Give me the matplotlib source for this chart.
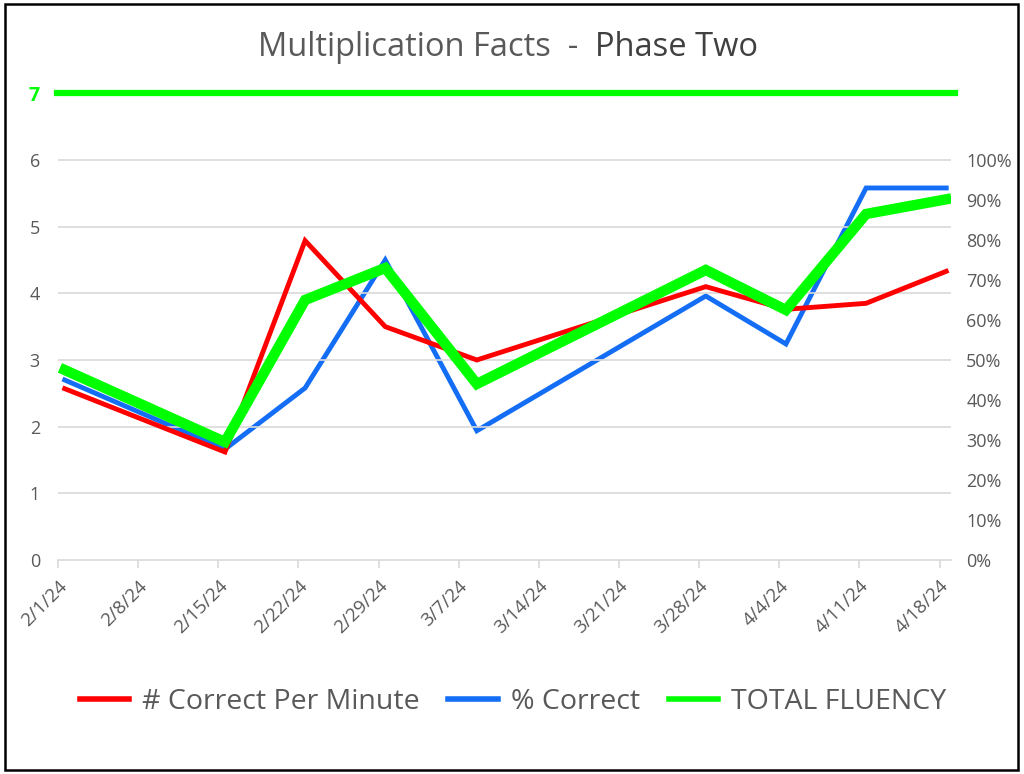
import matplotlib
matplotlib.use("Agg")
import matplotlib.pyplot as plt
from matplotlib.lines import Line2D
from matplotlib.patches import Rectangle
import pandas as pd

plt.rcParams['font.family'] = ['Open Sans', 'DejaVu Sans']

# ---- data ----
dates = ['2024-02-01', '2024-02-15', '2024-02-22', '2024-02-29', '2024-03-08',
         '2024-03-28', '2024-04-04', '2024-04-11', '2024-04-18']
correct_per_min = [2.57, 1.62, 4.79, 3.50, 3.00, 4.10, 3.76, 3.85, 4.33]
pct_correct = [45.0, 27.7, 43.0, 75.0, 32.3, 66.0, 54.0, 93.0, 93.0]
total_fluency = [2.85, 1.77, 3.90, 4.38, 2.64, 4.35, 3.75, 5.19, 5.41]
left_ticks = [0, 1, 2, 3, 4, 5, 6, 7]
right_ticks = [0, 10, 20, 30, 40, 50, 60, 70, 80, 90, 100]
tick_dates = pd.date_range('2024-02-01', '2024-04-18', freq='7D')
series_names = ['# Correct Per Minute', '% Correct', 'TOTAL FLUENCY']
title_a = 'Multiplication Facts  -  '
title_b = 'Phase Two'
goal = 7

RED = '#FF0000'
BLUE = '#146EF5'
GREEN = '#00FF00'
GRAY = '#595959'
GRID = '#D9D9D9'

x = pd.to_datetime(dates) + pd.Timedelta(hours=14)

fig = plt.figure(figsize=(10.24, 7.74), dpi=100)
ax = fig.add_axes([58/1024, 1-560/774, (951-58)/1024, (560-93.3)/774])
ax2 = ax.twinx()

ax.set_xlim(pd.Timestamp('2024-02-01'), pd.Timestamp('2024-04-19'))
ax.set_ylim(0, 7)
ax2.set_ylim(0, 100*7/6)

for a in (ax, ax2):
    for s in a.spines.values():
        s.set_visible(False)
ax.spines['bottom'].set_visible(True)
ax.spines['bottom'].set_color(GRID)
ax.spines['bottom'].set_linewidth(1.2)

ax.set_yticks(left_ticks)
ax.set_yticklabels([str(t) for t in left_ticks])
for t in left_ticks[1:-1]:
    ax.axhline(t, color=GRID, lw=1.2, zorder=0)
ax.tick_params(axis='y', length=0, pad=13, labelsize=13, labelcolor=GRAY)
lab7 = ax.get_yticklabels()[-1]
lab7.set_color(GREEN)
lab7.set_fontweight('bold')
lab7.set_fontsize(14)

ax2.set_yticks(right_ticks)
ax2.set_yticklabels([f'{t}%' for t in right_ticks])
ax2.tick_params(axis='y', length=0, pad=11, labelsize=13, labelcolor=GRAY)

ax.set_xticks(tick_dates)
ax.set_xticklabels([f'{d.month}/{d.day}/{d:%y}' for d in tick_dates],
                   rotation=45, ha='right', rotation_mode='anchor')
ax.tick_params(axis='x', length=6, width=1.2, color=GRID, labelsize=13.5,
               labelcolor=GRAY, pad=6)

# goal line at 7
ax.axhline(goal, xmin=-0.001, xmax=1.004, color=GREEN, lw=4.5, clip_on=False, zorder=3)

ax.plot(x, correct_per_min, color=RED, lw=3.5, zorder=4, solid_joinstyle='miter')
ax2.plot(x, pct_correct, color=BLUE, lw=3.5, zorder=4, solid_joinstyle='miter')
ax.plot(x, total_fluency, color=GREEN, lw=7.5, zorder=5, solid_joinstyle='miter')
ax.set_zorder(ax2.get_zorder() + 1)
ax.patch.set_visible(False)

# title (two colours)
TFS = 23.5
r = fig.canvas.get_renderer()
ta = fig.text(0, 0, title_a, fontsize=TFS)
tb = fig.text(0, 0, title_b, fontsize=TFS)
wa = ta.get_window_extent(r).width
wb = tb.get_window_extent(r).width
ta.remove(); tb.remove()
x0 = 508 - (wa + wb) / 2
fig.text(x0/1024, 1-47/774, title_a, ha='left', va='center', fontsize=TFS, color=GRAY)
fig.text((x0 + wa)/1024, 1-47/774, title_b, ha='left', va='center', fontsize=TFS, color='#404040')

handles = [Line2D([], [], color=RED, lw=4),
           Line2D([], [], color=BLUE, lw=4),
           Line2D([], [], color=GREEN, lw=4)]
fig.legend(handles, series_names, loc='center', bbox_to_anchor=(513/1024, 1-702/774),
           ncol=3, frameon=False, fontsize=20.5, labelcolor=GRAY, handlelength=1.75,
           columnspacing=1.0, handletextpad=0.45)

fig.patches.append(Rectangle((5/1024, 4/774), 1013/1024, 766/774, transform=fig.transFigure,
                             fill=False, edgecolor='black', lw=1.8))

fig.savefig('out.png', dpi=100)
